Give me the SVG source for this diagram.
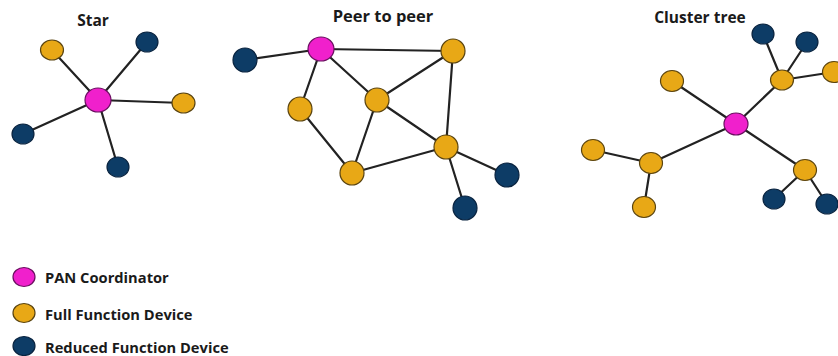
<svg xmlns="http://www.w3.org/2000/svg" width="838" height="356" viewBox="0 0 838 356">
<style>
.bg{fill:#ffffff}
.title{font-family:"Open Sans","Liberation Sans",sans-serif;font-weight:bold;font-size:15.5px;fill:#1a1a1a}
.leg{font-family:"Open Sans","Liberation Sans",sans-serif;font-weight:bold;font-size:14.7px;fill:#1a1a1a}
.edge{stroke:#222222;stroke-width:2.2;fill:none;stroke-linecap:round}
.pan{fill:#f020cc;stroke:#6a1060;stroke-width:1.2}
.ffd{fill:#e8a816;stroke:#5a4410;stroke-width:1.2}
.rfd{fill:#0d3c66;stroke:#0a2440;stroke-width:1.2}
</style>
<rect class="bg" x="0" y="0" width="838" height="356"/>

<text class="title" x="93" y="26" text-anchor="middle">Star</text>
<text class="title" x="383" y="22" text-anchor="middle" style="font-size:16.5px">Peer to peer</text>
<text class="title" x="700" y="23" text-anchor="middle">Cluster tree</text>

<g id="connectors">
  <!-- star -->
  <line class="edge" x1="98" y1="100" x2="52" y2="50"/>
  <line class="edge" x1="98" y1="100" x2="147" y2="42"/>
  <line class="edge" x1="98" y1="100" x2="183" y2="103"/>
  <line class="edge" x1="98" y1="100" x2="23" y2="134"/>
  <line class="edge" x1="98" y1="100" x2="118" y2="167"/>
  <!-- peer to peer -->
  <line class="edge" x1="245" y1="60" x2="321" y2="49"/>
  <line class="edge" x1="321" y1="49" x2="453" y2="51"/>
  <line class="edge" x1="321" y1="49" x2="377" y2="100"/>
  <line class="edge" x1="321" y1="49" x2="300" y2="109"/>
  <line class="edge" x1="300" y1="109" x2="352" y2="173"/>
  <line class="edge" x1="377" y1="100" x2="453" y2="51"/>
  <line class="edge" x1="377" y1="100" x2="352" y2="173"/>
  <line class="edge" x1="377" y1="100" x2="446" y2="147"/>
  <line class="edge" x1="453" y1="51" x2="446" y2="147"/>
  <line class="edge" x1="352" y1="173" x2="446" y2="147"/>
  <line class="edge" x1="446" y1="147" x2="507" y2="175"/>
  <line class="edge" x1="446" y1="147" x2="465" y2="208"/>
  <!-- cluster tree -->
  <line class="edge" x1="736" y1="124" x2="672" y2="81"/>
  <line class="edge" x1="736" y1="124" x2="782" y2="80"/>
  <line class="edge" x1="736" y1="124" x2="651" y2="163"/>
  <line class="edge" x1="736" y1="124" x2="805" y2="170"/>
  <line class="edge" x1="782" y1="80" x2="763" y2="34"/>
  <line class="edge" x1="782" y1="80" x2="807" y2="42"/>
  <line class="edge" x1="782" y1="80" x2="834" y2="72"/>
  <line class="edge" x1="651" y1="163" x2="593" y2="150"/>
  <line class="edge" x1="651" y1="163" x2="644" y2="207"/>
  <line class="edge" x1="805" y1="170" x2="774" y2="199"/>
  <line class="edge" x1="805" y1="170" x2="827" y2="204"/>
</g>

<!-- Star nodes -->
<g id="star-pan"><ellipse class="pan" cx="98" cy="100" rx="13" ry="12"/></g>
<g id="star-ffd1"><ellipse class="ffd" cx="52" cy="50" rx="11.5" ry="10"/></g>
<g id="star-rfd1"><ellipse class="rfd" cx="147" cy="42" rx="11" ry="10"/></g>
<g id="star-ffd2"><ellipse class="ffd" cx="183.5" cy="103" rx="11.5" ry="10"/></g>
<g id="star-rfd2"><ellipse class="rfd" cx="23" cy="134" rx="11" ry="10"/></g>
<g id="star-rfd3"><ellipse class="rfd" cx="118" cy="167" rx="11" ry="10"/></g>

<!-- Peer to peer nodes -->
<g id="p2p-rfd1"><ellipse class="rfd" cx="245" cy="60" rx="12" ry="12"/></g>
<g id="p2p-pan"><ellipse class="pan" cx="321" cy="49" rx="13" ry="12"/></g>
<g id="p2p-ffd1"><ellipse class="ffd" cx="453" cy="51" rx="12" ry="12"/></g>
<g id="p2p-ffd2"><ellipse class="ffd" cx="377" cy="100" rx="12" ry="12"/></g>
<g id="p2p-ffd3"><ellipse class="ffd" cx="300" cy="109" rx="12" ry="12"/></g>
<g id="p2p-ffd4"><ellipse class="ffd" cx="352" cy="173" rx="12" ry="12"/></g>
<g id="p2p-ffd5"><ellipse class="ffd" cx="446" cy="147" rx="12" ry="12"/></g>
<g id="p2p-rfd2"><ellipse class="rfd" cx="507" cy="175" rx="12" ry="12"/></g>
<g id="p2p-rfd3"><ellipse class="rfd" cx="465" cy="208" rx="12" ry="12"/></g>

<!-- Cluster tree nodes -->
<g id="ct-pan"><ellipse class="pan" cx="736" cy="124" rx="12" ry="11"/></g>
<g id="ct-ffd-ul"><ellipse class="ffd" cx="672" cy="81" rx="11.5" ry="10.5"/></g>
<g id="ct-ffd-hubtop"><ellipse class="ffd" cx="782" cy="80" rx="11.5" ry="10"/></g>
<g id="ct-rfd-t1"><ellipse class="rfd" cx="763" cy="34" rx="11" ry="10"/></g>
<g id="ct-rfd-t2"><ellipse class="rfd" cx="807" cy="42" rx="11" ry="10"/></g>
<g id="ct-ffd-r"><ellipse class="ffd" cx="834" cy="72" rx="11.5" ry="10.5"/></g>
<g id="ct-ffd-hubleft"><ellipse class="ffd" cx="651" cy="163" rx="11.5" ry="10.5"/></g>
<g id="ct-ffd-l"><ellipse class="ffd" cx="593" cy="150" rx="11.5" ry="10.5"/></g>
<g id="ct-ffd-bl"><ellipse class="ffd" cx="644" cy="207" rx="11.5" ry="10.5"/></g>
<g id="ct-ffd-hubbr"><ellipse class="ffd" cx="805" cy="170" rx="11.5" ry="10.5"/></g>
<g id="ct-rfd-b1"><ellipse class="rfd" cx="774" cy="199" rx="11" ry="10"/></g>
<g id="ct-rfd-b2"><ellipse class="rfd" cx="827" cy="204" rx="11" ry="10"/></g>

<!-- Legend -->
<g id="legend-pan">
  <ellipse class="pan" cx="24" cy="277" rx="11" ry="9.5"/>
  <text class="leg" x="45" y="283">PAN Coordinator</text>
</g>
<g id="legend-ffd">
  <ellipse class="ffd" cx="24" cy="313" rx="11" ry="9.5"/>
  <text class="leg" x="45" y="320">Full Function Device</text>
</g>
<g id="legend-rfd">
  <ellipse class="rfd" cx="24" cy="346" rx="11" ry="9.5"/>
  <text class="leg" x="45" y="353">Reduced Function Device</text>
</g>
</svg>
